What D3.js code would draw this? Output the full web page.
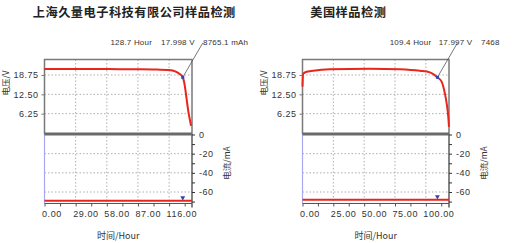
<!DOCTYPE html>
<html>
<head>
<meta charset="utf-8">
<script src="https://cdn.jsdelivr.net/npm/d3@7"></script>
<style>
  body { margin: 0; background: #fff; }
  text { font-family: "Liberation Sans", Arial, sans-serif; fill: #333; }
  .cjk { font-family: "Noto Sans CJK SC", sans-serif; }
</style>
</head>
<body>
<div id="chart"></div>
<script>
const titles = ["上海久量电子科技有限公司样品检测", "美国样品检测"];

const hoursA = [0, 0.3, 10, 30, 60, 90, 105, 115, 120, 124, 126.5, 128.7, 130.2, 132.4, 133.9, 135.4, 136.4];
const voltsA = [20.9, 20.7, 20.7, 20.7, 20.65, 20.6, 20.5, 20.4, 20.1, 19.5, 18.9, 18.0, 16.1, 10.7, 6.9, 4.2, 2.3];
const hoursB = [0, 0.5, 2.7, 8.6, 22, 54.6, 79, 95.2, 103.3, 109.4, 112.8, 115.5, 116.9, 118.2, 118.8];
const voltsB = [15.0, 19.1, 19.7, 20.1, 20.6, 20.8, 20.6, 20.1, 19.6, 18.0, 16.6, 12.7, 9.6, 5.3, 2.0];

const currHoursA = [0, 137.3];
const currentA = [-69, -69];
const currHoursB = [0, 118.8];
const currentB = [-68, -68];

const xTicksA = [0, 29, 58, 87, 116];
const xTicksB = [0, 25, 50, 75, 100];
const voltTicks = [6.25, 12.5, 18.75];
const currTicks = [0, -20, -40, -60];

const markHours = [128.7, 109.4];
const markVolts = [17.998, 17.997];
const markCaps = ["8765.1 mAh", "7468"];

const svg = d3.select("#chart").append("svg")
    .attr("width", 514)
    .attr("height", 243);

function drawPanel(i, p) {
    const { left, right, xMax, hours, volts, cHours, current, xTicks, xStep, titleX, annDx } = p;
    const top = 59.5, sep = 134, bottom = 203.5;
    const g = svg.append("g");

    const x = d3.scaleLinear().domain([0, xMax]).range([left, right]);
    const yV = d3.scaleLinear().domain([0, 23.76]).range([sep - 1, top]);
    const yC = d3.scaleLinear().domain([-72, 0]).range([bottom, sep + 0.5]);

    // title
    g.append("text").attr("class", "cjk")
        .attr("x", titleX).attr("y", 17)
        .attr("text-anchor", "middle")
        .style("font-size", "12.2px").style("font-weight", "bold")
        .style("letter-spacing", "0.5px").style("fill", "#222")
        .text(titles[i]);

    // grid
    const dash = "1.5,2";
    g.selectAll(".vg").data(xTicks.slice(1)).enter().append("line")
        .attr("x1", d => x(d)).attr("x2", d => x(d))
        .attr("y1", top).attr("y2", bottom)
        .attr("stroke", "#9a9a9a").attr("stroke-dasharray", dash).attr("stroke-width", 0.8);
    g.selectAll(".hv").data(voltTicks).enter().append("line")
        .attr("x1", left).attr("x2", right)
        .attr("y1", d => yV(d)).attr("y2", d => yV(d))
        .attr("stroke", "#9a9a9a").attr("stroke-dasharray", dash).attr("stroke-width", 0.8);
    g.selectAll(".hc").data(currTicks.slice(1)).enter().append("line")
        .attr("x1", left).attr("x2", right)
        .attr("y1", d => yC(d)).attr("y2", d => yC(d))
        .attr("stroke", "#9a9a9a").attr("stroke-dasharray", dash).attr("stroke-width", 0.8);

    // upper frame
    g.append("path")
        .attr("d", `M${left},${sep}V${top}H${right}V${sep}`)
        .attr("fill", "none").attr("stroke", "#7a7a7a").attr("stroke-width", 1.5);

    // left voltage axis
    const axV = g.append("g")
        .attr("transform", `translate(${left},0)`)
        .call(d3.axisLeft(yV).tickValues(voltTicks).tickSize(3).tickFormat(d3.format(".2f")));
    axV.select(".domain").remove();
    axV.selectAll("line").attr("stroke", "#777");
    axV.selectAll("text").attr("font-size", 9).attr("fill", "#333").style("letter-spacing", "0.5px");
    g.append("text").attr("class", "cjk")
        .attr("transform", `translate(${left - 38},83) rotate(-90)`)
        .attr("text-anchor", "middle").attr("dy", "0.35em")
        .style("font-size", "8.5px").text("电压/V");

    // lower panel left line
    g.append("line")
        .attr("x1", left).attr("x2", left).attr("y1", sep).attr("y2", bottom)
        .attr("stroke", "#a8a8f0").attr("stroke-width", 1.2);

    // right current axis
    const axC = g.append("g")
        .attr("transform", `translate(${right},0)`)
        .call(d3.axisRight(yC).tickValues(d3.range(0, -71, -10)).tickSize(3)
            .tickFormat(d => currTicks.includes(d) ? d3.format(".0f")(d).replace("−", "-") : ""));
    axC.select(".domain").attr("stroke", "#333").attr("stroke-width", 1.2)
        .attr("d", `M0,${sep}V${bottom + 4}`);
    axC.selectAll("line").attr("stroke", "#333");
    axC.selectAll("text").attr("font-size", 9).attr("fill", "#333").attr("x", 7)
        .style("letter-spacing", "0.5px");
    g.append("text").attr("class", "cjk")
        .attr("transform", `translate(${right + 35},163) rotate(-90)`)
        .attr("text-anchor", "middle").attr("dy", "0.35em")
        .style("font-size", "8.5px").text("电流/mA");

    // bottom axis
    const axX = g.append("g")
        .attr("transform", `translate(0,${bottom})`)
        .call(d3.axisBottom(x).tickValues(d3.range(0, xMax, xStep / 2)).tickSize(3)
            .tickFormat(d => xTicks.includes(d) ? d3.format(".2f")(d) : ""));
    axX.select(".domain").attr("stroke", "#555").attr("d", `M${left},0H${right}`);
    axX.selectAll("line").attr("stroke", "#555");
    axX.selectAll("text").attr("font-size", 9).attr("fill", "#333")
        .attr("text-anchor", "start").attr("dx", -3).attr("y", 7)
        .style("letter-spacing", "0.6px");
    g.append("text").attr("class", "cjk")
        .attr("x", (left + right) / 2).attr("y", 239)
        .attr("text-anchor", "middle")
        .style("font-size", "9px").text("时间/Hour");

    // separator
    g.append("line")
        .attr("x1", left).attr("x2", right).attr("y1", sep).attr("y2", sep)
        .attr("stroke", "#6a6a6a").attr("stroke-width", 3);

    // voltage curve
    const line = d3.line().curve(d3.curveMonotoneX)
        .x((d, k) => x(hours[k])).y(d => yV(d));
    g.append("path").datum(volts)
        .attr("d", line)
        .attr("fill", "none").attr("stroke", "#e8261c").attr("stroke-width", 2);

    // current curve
    g.append("path").datum(current)
        .attr("d", d3.line().x((d, k) => x(cHours[k])).y(d => yC(d)))
        .attr("fill", "none").attr("stroke", "#e8261c").attr("stroke-width", 2);

    // marker + annotation
    const mx = x(markHours[i]), my = yV(markVolts[i]);
    const lx = mx + 20, ly = 43;
    g.append("line")
        .attr("x1", mx).attr("y1", my).attr("x2", lx).attr("y2", ly)
        .attr("stroke", "#555").attr("stroke-width", 0.8);
    g.append("rect")
        .attr("x", mx - 1.5).attr("y", my - 1.5).attr("width", 3).attr("height", 3)
        .attr("fill", "#3344aa");
    g.append("path")
        .attr("d", d3.symbol(d3.symbolTriangle, 10))
        .attr("transform", `translate(${mx},${yC(current[0]) - 3}) rotate(180)`)
        .attr("fill", "#3344aa");

    const ann = [markHours[i] + " Hour", d3.format(".3f")(markVolts[i]) + " V", markCaps[i]];
    g.selectAll(".ann").data(ann).enter().append("text")
        .attr("x", (d, k) => lx + annDx[k]).attr("y", 45)
        .attr("text-anchor", (d, k) => k === 0 ? "end" : "start")
        .attr("font-size", 8).style("letter-spacing", "0.2px")
        .text(d => d);
}

drawPanel(0, {
    left: 44.5, right: 192, xMax: 137.3, hours: hoursA, volts: voltsA,
    cHours: currHoursA, current: currentA, xTicks: xTicksA, xStep: 29,
    titleX: 134.3, annDx: [-50.7, -41.7, 0.3]
});
drawPanel(1, {
    left: 302.5, right: 449, xMax: 118.8, hours: hoursB, volts: voltsB,
    cHours: currHoursB, current: currentB, xTicks: xTicksB, xStep: 25,
    titleX: 348.3, annDx: [-26.1, -18.7, 23.6]
});
</script>
</body>
</html>
